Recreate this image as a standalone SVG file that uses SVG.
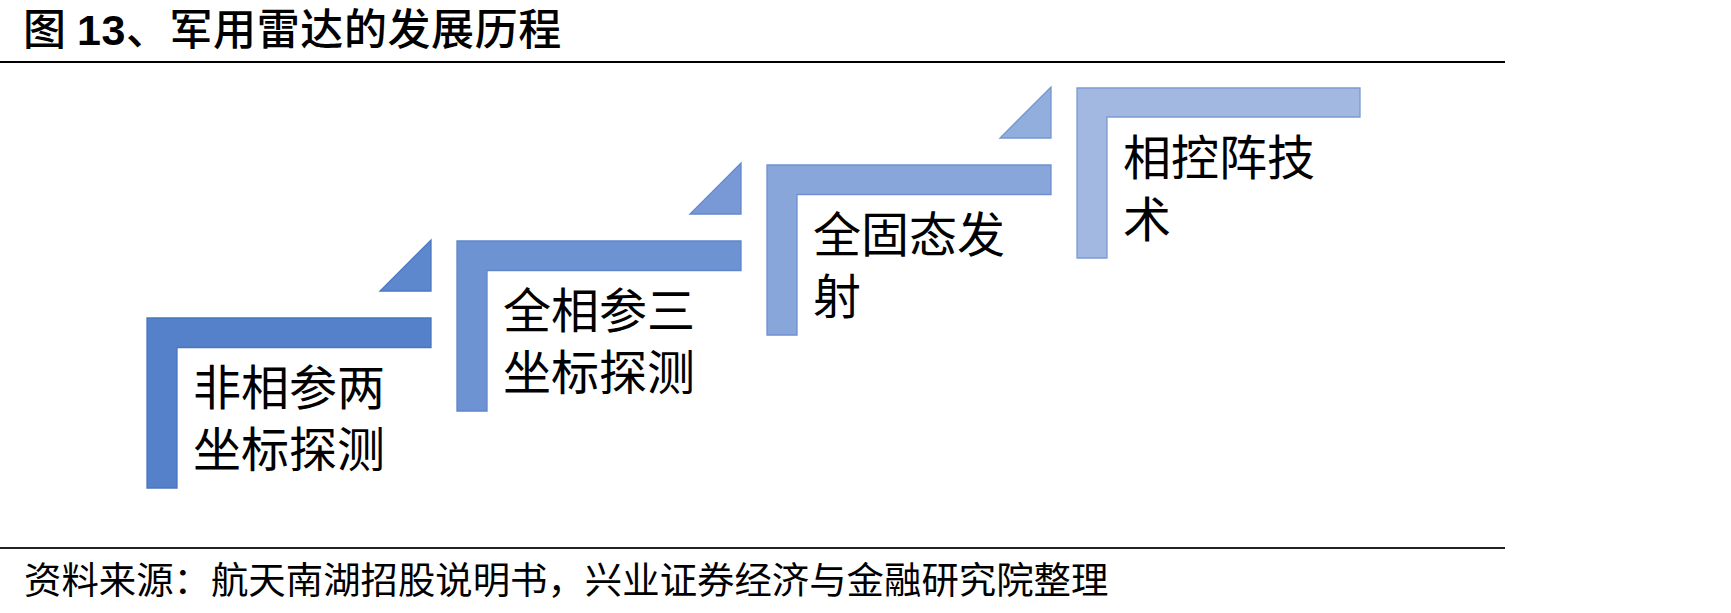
<svg xmlns="http://www.w3.org/2000/svg" width="1731" height="613" viewBox="0 0 1731 613">
<style>
.t{font-family:"Noto Sans CJK SC","Liberation Sans",sans-serif;font-size:48px;fill:#000}
.title{font-family:"Noto Sans CJK SC","Liberation Sans",sans-serif;font-size:43px;font-weight:500;fill:#000}
.num{font-family:"Liberation Sans","Noto Sans CJK SC",sans-serif;font-weight:bold}
.foot{font-family:"Noto Sans CJK SC","Liberation Sans",sans-serif;font-size:37.4px;fill:#000}
.step{stroke-width:1.3;stroke-linejoin:miter}
</style>
<rect width="1731" height="613" fill="#fff"/>
<g id="header">
<text class="title" x="23" y="45" letter-spacing="0.6">图 <tspan class="num">13</tspan>、军用雷达的发展历程</text>
<line x1="0" y1="62" x2="1505" y2="62" stroke="#000" stroke-width="2.2"/>
</g>
<g id="connectors">
<polygon class="step" points="431,240 431,291 380,291" fill="#5e88cd" stroke="#4c78c2"/>
<polygon class="step" points="741,163 741,214 690,214" fill="#7899d5" stroke="#6189cd"/>
<polygon class="step" points="1051,87 1051,138 1000,138" fill="#91aedd" stroke="#7495d2"/>
</g>
<g id="step1">
<path class="step" d="M147,318 H431 V347.5 H177 V488 H147 Z" fill="#5581ca" stroke="#4a76c0"/>
<text class="t" x="193" y="405">非相参两<tspan x="193" y="467">坐标探测</tspan></text>
</g>
<g id="step2">
<path class="step" d="M457,241 H741 V270.5 H487 V411 H457 Z" fill="#6e93d2" stroke="#5d86cb"/>
<text class="t" x="503" y="328">全相参三<tspan x="503" y="390">坐标探测</tspan></text>
</g>
<g id="step3">
<path class="step" d="M767,165 H1051 V194.5 H797 V335 H767 Z" fill="#89a6db" stroke="#6f90d0"/>
<text class="t" x="813" y="252">全固态发<tspan x="813" y="314">射</tspan></text>
</g>
<g id="step4">
<path class="step" d="M1077,88 H1360 V117 H1107 V258 H1077 Z" fill="#a2b8e0" stroke="#7b9ad3"/>
<text class="t" x="1123" y="175">相控阵技<tspan x="1123" y="237">术</tspan></text>
</g>
<g id="footer">
<line x1="0" y1="548" x2="1505" y2="548" stroke="#222" stroke-width="2"/>
<text class="foot" x="24" y="594">资料来源：航天南湖招股说明书，兴业证券经济与金融研究院整理</text>
</g>
</svg>
